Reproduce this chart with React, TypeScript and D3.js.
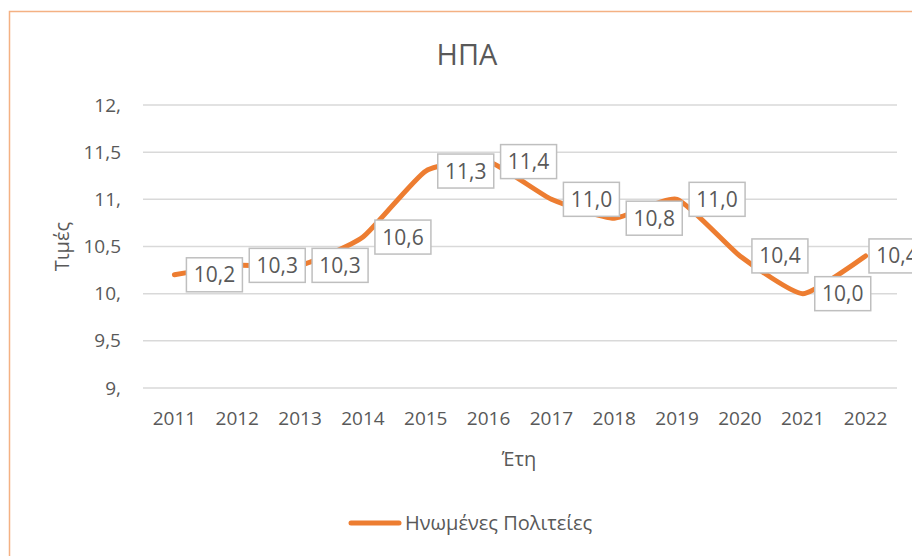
import { useEffect, useRef } from 'react';
import * as d3 from 'd3';

const years = ['2011', '2012', '2013', '2014', '2015', '2016', '2017', '2018', '2019', '2020', '2021', '2022'];
const usaValues = [10.2, 10.3, 10.3, 10.6, 11.3, 11.4, 11.0, 10.8, 11.0, 10.4, 10.0, 10.4];
const yTicks = [9, 9.5, 10, 10.5, 11, 11.5, 12];

const seriesName = 'Ηνωμένες Πολιτείες';
const chartTitle = 'ΗΠΑ';

const fmtTick = (v: number) => (Number.isInteger(v) ? `${v},` : String(v).replace('.', ','));
const fmtLabel = (v: number) => v.toFixed(1).replace('.', ',');

const App = () => {
  const ref = useRef<SVGSVGElement | null>(null);

  useEffect(() => {
    const width = 912;
    const height = 556;
    const marginLeft = 143;
    const plotRight = 897;
    const chartRight = 925; // the chart area runs past the window's right edge
    const yTop = 105;
    const yBottom = 388;
    const textColor = '#595959';
    const font = '"Open Sans", sans-serif';
    const boxW = 56;

    const svg = d3.select(ref.current);
    svg.selectAll('*').remove();

    // chart frame
    svg
      .append('rect')
      .attr('x', 9.5)
      .attr('y', 11.5)
      .attr('width', width + 20)
      .attr('height', height + 20)
      .attr('fill', '#fff')
      .attr('stroke', '#f4b183')
      .attr('stroke-width', 1.5);

    const x = d3.scaleBand().domain(years).range([marginLeft, plotRight]);
    const y = d3.scaleLinear().domain([9, 12]).range([yBottom, yTop]);
    const cx = (d: string) => (x(d) ?? 0) + x.bandwidth() / 2;

    // gridlines
    svg
      .append('g')
      .selectAll('line')
      .data(yTicks)
      .join('line')
      .attr('x1', marginLeft)
      .attr('x2', plotRight)
      .attr('y1', (d) => y(d))
      .attr('y2', (d) => y(d))
      .attr('stroke', '#d9d9d9')
      .attr('stroke-width', 1.5);

    // y tick labels
    svg
      .append('g')
      .selectAll('text')
      .data(yTicks)
      .join('text')
      .attr('x', 121)
      .attr('y', (d) => y(d))
      .attr('dy', '0.35em')
      .attr('text-anchor', 'end')
      .attr('fill', textColor)
      .attr('font-family', font)
      .attr('font-size', 19)
      .text(fmtTick);

    // x tick labels
    svg
      .append('g')
      .selectAll('text')
      .data(years)
      .join('text')
      .attr('x', (d) => cx(d))
      .attr('y', 418)
      .attr('dy', '0.35em')
      .attr('text-anchor', 'middle')
      .attr('fill', textColor)
      .attr('font-family', font)
      .attr('font-size', 19)
      .text((d) => d);

    // title
    svg
      .append('text')
      .attr('x', 467)
      .attr('y', 55)
      .attr('dy', '0.35em')
      .attr('text-anchor', 'middle')
      .attr('fill', textColor)
      .attr('font-family', font)
      .attr('font-size', 29)
      .text(chartTitle);

    // axis titles
    svg
      .append('text')
      .attr('transform', `translate(62,${(yTop + yBottom) / 2}) rotate(-90)`)
      .attr('dy', '0.35em')
      .attr('text-anchor', 'middle')
      .attr('fill', textColor)
      .attr('font-family', font)
      .attr('font-size', 20)
      .text('Τιμές');

    svg
      .append('text')
      .attr('x', 519)
      .attr('y', 459)
      .attr('dy', '0.35em')
      .attr('text-anchor', 'middle')
      .attr('fill', textColor)
      .attr('font-family', font)
      .attr('font-size', 20)
      .text('Έτη');

    // series line (lightly smoothed, like Excel)
    const line = d3
      .line<number>()
      .x((_, i) => cx(years[i]))
      .y((d) => y(d))
      .curve(d3.curveCardinal.tension(0.5));

    svg
      .append('path')
      .datum(usaValues)
      .attr('d', line)
      .attr('fill', 'none')
      .attr('stroke', '#ed7d31')
      .attr('stroke-width', 5)
      .attr('stroke-linecap', 'round')
      .attr('stroke-linejoin', 'round');

    // data labels, to the right of each point
    const labels = svg
      .append('g')
      .selectAll('g')
      .data(usaValues)
      .join('g')
      .attr('transform', (d, i) => `translate(${Math.min(cx(years[i]) + 12, chartRight - boxW)},${y(d)})`);

    labels
      .append('rect')
      .attr('x', 0)
      .attr('y', -17)
      .attr('width', boxW)
      .attr('height', 34)
      .attr('fill', '#fff')
      .attr('stroke', '#bfbfbf')
      .attr('stroke-width', 1.5);

    labels
      .append('text')
      .attr('x', boxW / 2)
      .attr('y', 0)
      .attr('dy', '0.36em')
      .attr('text-anchor', 'middle')
      .attr('fill', textColor)
      .attr('font-family', font)
      .attr('font-size', 21)
      .text(fmtLabel);

    // legend
    const legend = svg.append('g').attr('transform', 'translate(349,523)');
    legend
      .append('line')
      .attr('x1', 2)
      .attr('x2', 50)
      .attr('stroke', '#ed7d31')
      .attr('stroke-width', 5)
      .attr('stroke-linecap', 'round');
    legend
      .append('text')
      .attr('x', 56)
      .attr('dy', '0.35em')
      .attr('fill', textColor)
      .attr('font-family', font)
      .attr('font-size', 20)
      .text(seriesName);
  }, []);

  return (
    <div style={{ position: 'absolute', left: 0, top: 0, width: 912, height: 556, overflow: 'hidden', background: '#fff' }}>
      <svg ref={ref} width={912} height={556} />
    </div>
  );
};

export default App;
